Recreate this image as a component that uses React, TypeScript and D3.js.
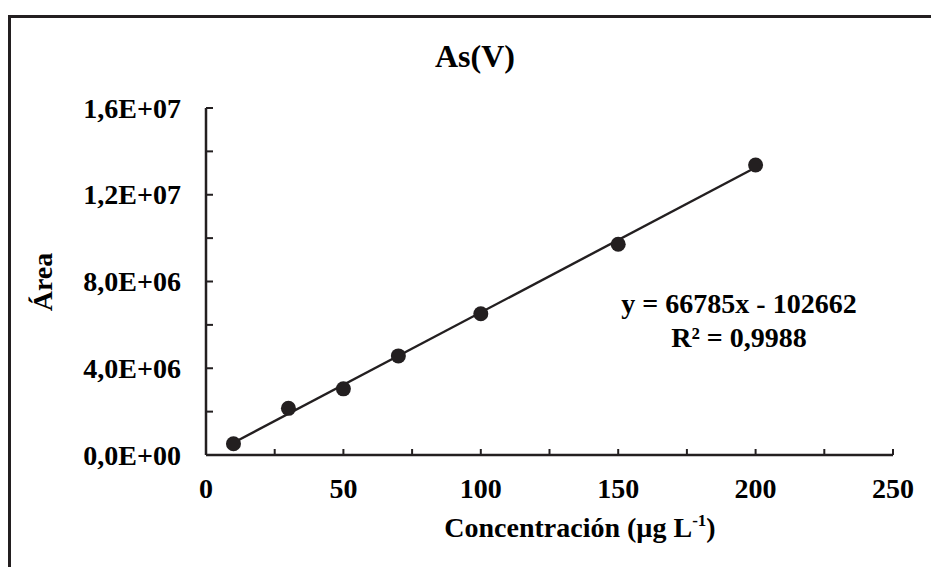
import React from "react";
import * as d3 from "d3";

const concentrations = [10, 30, 50, 70, 100, 150, 200];
const areas = [5.2e5, 2.15e6, 3.05e6, 4.57e6, 6.51e6, 9.72e6, 1.337e7];
const xTicks = [0, 50, 100, 150, 200, 250];
const xMinorTicks = [0, 25, 50, 75, 100, 125, 150, 175, 200, 225, 250];
const yTicks = [0, 4e6, 8e6, 1.2e7, 1.6e7];
const yTickLabels = ["0,0E+00", "4,0E+06", "8,0E+06", "1,2E+07", "1,6E+07"];
const yMinorTicks = [0, 2e6, 4e6, 6e6, 8e6, 1e7, 1.2e7, 1.4e7, 1.6e7];
const slope = 66785;
const intercept = -102662;
const title = "As(V)";
const eqLine1 = "y = 66785x - 102662";
const eqLine2 = "R² = 0,9988";

const W = 931;
const H = 567;
const FONT = "'Liberation Serif', 'Times New Roman', serif";
const INK = "#231f20";

export default function App() {
  const x = d3.scaleLinear().domain([0, 250]).range([206, 893]);
  const y = d3.scaleLinear().domain([0, 1.6e7]).range([455, 108]);
  const lineGen = d3
    .line<number>()
    .x((d) => x(d))
    .y((d) => y(slope * d + intercept));
  const xs = [concentrations[0], concentrations[concentrations.length - 1]];

  return (
    <div style={{ position: "fixed", left: 0, top: 0, width: W, height: H, background: "#fff" }}>
      <svg width={W} height={H} style={{ display: "block" }} fontFamily={FONT}>
        <rect x={0} y={0} width={W} height={H} fill="#fff" />
        <rect x={9.5} y={16.5} width={W + 20} height={H + 20} fill="none" stroke={INK} strokeWidth={3} />
        <text x={475} y={67} textAnchor="middle" fontSize={32} fontWeight="bold" fill="#000">
          {title}
        </text>
        {yMinorTicks.map((t) => (
          <line key={"ym" + t} x1={x(0)} x2={x(0) + 7} y1={y(t)} y2={y(t)} stroke={INK} strokeWidth={2} />
        ))}
        {xMinorTicks.map((t) => (
          <line key={"xm" + t} x1={x(t)} x2={x(t)} y1={y(0)} y2={y(0) - 6} stroke={INK} strokeWidth={2} />
        ))}
        <line x1={x(0)} x2={x(0)} y1={y(1.6e7)} y2={y(0)} stroke={INK} strokeWidth={2.5} />
        <line x1={x(0)} x2={x(250)} y1={y(0)} y2={y(0)} stroke={INK} strokeWidth={2.5} />
        {yTicks.map((t, i) => (
          <text key={"yl" + t} x={181} y={y(t) + 9.5} textAnchor="end" fontSize={28} fontWeight="bold" fill="#000">
            {yTickLabels[i]}
          </text>
        ))}
        {xTicks.map((t) => (
          <text key={"xl" + t} x={x(t)} y={498} textAnchor="middle" fontSize={28} fontWeight="bold" fill="#000">
            {t}
          </text>
        ))}
        <path d={lineGen(xs) || ""} fill="none" stroke={INK} strokeWidth={2.4} />
        {concentrations.map((c, i) => (
          <circle key={"p" + c} cx={x(c)} cy={y(areas[i])} r={7.5} fill={INK} />
        ))}
        <text x={739} y={313} textAnchor="middle" fontSize={28} fontWeight="bold" fill="#000">
          {eqLine1}
        </text>
        <text x={739} y={347} textAnchor="middle" fontSize={28} fontWeight="bold" fill="#000">
          {eqLine2}
        </text>
        <text
          transform="translate(52,282) rotate(-90)"
          textAnchor="middle"
          fontSize={28}
          fontWeight="bold"
          fill="#000"
        >
          Área
        </text>
        <text x={580} y={537} textAnchor="middle" fontSize={28} fontWeight="bold" fill="#000">
          Concentración (µg L
          <tspan fontSize={17} dy={-11}>-1</tspan>
          <tspan dy={11}>)</tspan>
        </text>
      </svg>
    </div>
  );
}
